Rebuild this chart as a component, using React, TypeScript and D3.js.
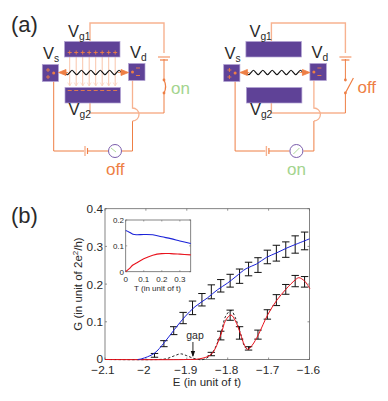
import React from "react";
import * as d3 from "d3";

const blueE = [-2.02,-2.01,-1.98,-1.955,-1.93,-1.905,-1.88,-1.85,-1.825,-1.8,-1.78,-1.755,-1.73,-1.705,-1.68,-1.655,-1.63,-1.6];
const blueG = [0,0.002,0.016,0.045,0.08,0.113,0.14,0.163,0.185,0.203,0.22,0.241,0.253,0.271,0.283,0.296,0.307,0.32];
const redE = [-2.1,-1.9,-1.868,-1.84,-1.817,-1.805,-1.792,-1.781,-1.769,-1.759,-1.751,-1.74,-1.725,-1.702,-1.68,-1.658,-1.635,-1.626,-1.612,-1.599];
const redG = [0,0,0.002,0.014,0.065,0.104,0.118,0.102,0.069,0.038,0.027,0.038,0.066,0.119,0.157,0.186,0.211,0.217,0.208,0.188];
const dashE = [-2.1,-1.97,-1.95,-1.93,-1.915,-1.9,-1.88,-1.86,-1.84,-1.817,-1.805,-1.792,-1.781,-1.769,-1.755,-1.74];
const dashG = [0,0,0.002,0.01,0.015,0.01,0.002,0,0.014,0.068,0.115,0.13,0.11,0.07,0.03,0.036];
const blueBarE = [-1.979,-1.956,-1.932,-1.909,-1.886,-1.863,-1.84,-1.817,-1.794,-1.771,-1.749,-1.726,-1.703,-1.681,-1.658,-1.635,-1.612];
const blueBarLo = [0.006,0.034,0.066,0.095,0.119,0.142,0.161,0.179,0.192,0.202,0.222,0.231,0.254,0.261,0.271,0.282,0.291];
const blueBarHi = [0.016,0.05,0.087,0.125,0.155,0.175,0.198,0.212,0.226,0.24,0.258,0.27,0.29,0.303,0.312,0.328,0.338];
const redBarE = [-1.84,-1.817,-1.794,-1.771,-1.749,-1.726,-1.703,-1.681,-1.658,-1.635,-1.612];
const redBarLo = [0.01,0.052,0.104,0.054,0.025,0.054,0.107,0.143,0.173,0.193,0.192];
const redBarHi = [0.019,0.075,0.131,0.087,0.034,0.078,0.132,0.172,0.199,0.223,0.22];
const insetT = [0,0.02,0.04,0.06,0.1,0.15,0.2,0.25,0.3,0.36];
const insetBlue = [0.159,0.153,0.145,0.143,0.144,0.143,0.135,0.128,0.119,0.109];
const insetRed = [0,0.012,0.026,0.034,0.05,0.064,0.07,0.07,0.068,0.065];
const xTicks = [-2.1,-2,-1.9,-1.8,-1.7,-1.6];
const xTickLabels = ["−2.1","−2","−1.9","−1.8","−1.7","−1.6"];
const yTicks = [0,0.1,0.2,0.3,0.4];
const yTickLabels = ["0","0.1","0.2","0.3","0.4"];
const insetXTicks = [0,0.1,0.2,0.3];
const insetXLabels = ["0","0.1","0.2","0.3"];
const insetYTicks = [0,0.1,0.2];
const insetYLabels = ["0","0.1","0.2"];
const wavePhase = [0,1,0,-1,0,1,0,-1,0,1,0,-1,0,1,0,-1,0,1,0,-1,0,1,0,-1,0];
const fieldLines = [0,1,2,3,4,5,6,7];

const FONT = "'Liberation Sans', Arial, sans-serif";
const PURPLE = "#5f4297";
const EDGE = "#b3a3d3";
const WIRE = "#f7b290";
const OR = "#ee7f45";
const GRN = "#a3d48e";
const TXT = "#2a2a2a";
const AX = "#666";

const x = d3.scaleLinear().domain([-2.1, -1.6]).range([105, 309.5]);
const y = d3.scaleLinear().domain([0, 0.4]).range([359.5, 208.7]);
const ix = d3.scaleLinear().domain([0, 0.36]).range([125.7, 190.7]);
const iy = d3.scaleLinear().domain([0, 0.2]).range([271.7, 220]);

function pathOf(xs: number[], ys: number[], sx: any, sy: any) {
  return d3.line<number>().x((d) => sx(d)).y((_, i) => sy(ys[i])).curve(d3.curveCatmullRom.alpha(0.5))(xs) as string;
}

function V({ x, y, sub, size = 16.5 }: { x: number; y: number; sub: string; size?: number }) {
  return (
    <text x={x} y={y} fontSize={size} fill={TXT} fontFamily={FONT}>
      V<tspan fontSize={size * 0.62} dy={3}>{sub}</tspan>
    </text>
  );
}

function ErrorBar({ e, lo, hi }: { e: number; lo: number; hi: number }) {
  return (
    <path d={`M${x(e) - 3.7},${y(hi)} h7.4 M${x(e)},${y(hi)} V${y(lo)} M${x(e) - 3.7},${y(lo)} h7.4`} fill="none" stroke="#111" strokeWidth={1} />
  );
}

function Circuit({ dx, gateOn }: { dx: number; gateOn: boolean }) {
  const wave = d3.line<number>().x((_, i) => 65 + i * 2.35).y((d) => 72.5 + d * 2.3).curve(d3.curveCatmullRom)(wavePhase) as string;
  return (
    <g transform={`translate(${dx},0)`} fontFamily={FONT}>
      <path d="M90,41 V23 H164 V53" fill="none" stroke={WIRE} strokeWidth={1.4} />
      <path d="M164,113 H90 V103" fill="none" stroke={WIRE} strokeWidth={1.4} />
      <path d="M164,59 V80 M164,93 V113" fill="none" stroke={OR} strokeWidth={1} />
      <path d="M158,57 H170" stroke={WIRE} strokeWidth={1.6} />
      <path d="M160,60 H168" stroke={OR} strokeWidth={1.2} />
      {gateOn
        ? <path d="M164,80 C166,84 166,89 164,93" stroke={OR} strokeWidth={1.2} fill="none" />
        : <path d="M164,93 L172,78" stroke={OR} strokeWidth={1.2} fill="none" />}
      <circle cx={164} cy={80} r={1.4} fill={OR} />
      <circle cx={164} cy={93} r={1.4} fill={OR} />
      <path d="M53.7,73 V151 H84 M87.5,151 H108 M122,151 H132.5 V121" fill="none" stroke={OR} strokeWidth={1} />
      <path d="M132.5,121 A6.5,6.5 0 0 0 132.5,108 V72" fill="none" stroke={WIRE} strokeWidth={1.3} />
      <path d="M85,146 V156" stroke={WIRE} strokeWidth={1.4} />
      <path d="M87.5,148 V154" stroke={OR} strokeWidth={1.2} />
      <circle cx={115} cy={151} r={6.5} fill="#fff" stroke="#7a5cab" strokeWidth={1} />
      <path d={gateOn ? "M111,148 L116,152" : "M112,154 L118,148"} stroke={GRN} strokeWidth={0.9} />
      {gateOn && fieldLines.map((i) => {
        const fx = 69.7 + i * 6.5;
        return (
          <g key={i}>
            <path d={`M${fx},57 V86`} stroke="#f9c6ac" strokeWidth={1} />
            <path d={`M${fx - 2},82.5 L${fx},86 L${fx + 2},82.5`} stroke="#fbd6c2" strokeWidth={0.8} fill="none" />
          </g>
        );
      })}
      <rect x={64.5} y={41.5} width={55.5} height={15.5} fill={PURPLE} stroke={EDGE} strokeWidth={0.7} />
      <rect x={65} y={87.5} width={55.5} height={15.5} fill={PURPLE} stroke={EDGE} strokeWidth={0.7} />
      <rect x={42.3} y={64.5} width={16.2} height={17} fill={PURPLE} stroke={EDGE} strokeWidth={0.7} />
      <rect x={128.5} y={63.5} width={16.5} height={17} fill={PURPLE} stroke={EDGE} strokeWidth={0.7} />
      {gateOn && fieldLines.map((i) => {
        const fx = 69.7 + i * 6.5;
        return (
          <g key={i} stroke={OR} strokeWidth={0.9}>
            <path d={`M${fx - 2},52.5 H${fx + 2} M${fx},50.5 V54.5`} />
            <path d={`M${fx - 2},90.5 H${fx + 2}`} />
          </g>
        );
      })}
      <g stroke={OR} strokeWidth={0.9}>
        <path d="M46,70 H50 M48,68 V72 M46,77 H50 M48,75 V79" />
        <path d="M136,68 H140 M136,75.5 H140" />
      </g>
      <circle cx={53.7} cy={73} r={1.5} fill={OR} />
      <circle cx={132.5} cy={72} r={1.5} fill={OR} />
      <path d={wave} fill="none" stroke="#111" strokeWidth={1.1} />
      <path d="M66,69.5 V75.5 L58.5,72.5 Z M62,72.5 H68" fill={OR} stroke={OR} strokeWidth={0.8} />
      <path d="M121,69.5 V75.5 L128.5,72.5 Z M118,72.5 H122" fill={OR} stroke={OR} strokeWidth={0.8} />
      <V x={68} y={37} sub="g1" />
      <V x={43} y={59} sub="s" />
      <V x={130} y={58} sub="d" />
      <V x={68.5} y={115} sub="g2" />
    </g>
  );
}

export default function App() {
  return (
    <svg width={388} height={401} viewBox="0 0 388 401" style={{ position: "absolute", left: 0, top: 0, background: "#fff" }} fontFamily={FONT}>
      <text x={11} y={32} fontSize={22} fill={TXT}>(a)</text>
      <text x={11} y={223} fontSize={22} fill={TXT}>(b)</text>
      <Circuit dx={0} gateOn={true} />
      <Circuit dx={181.4} gateOn={false} />
      <text x={171} y={94} fontSize={17} fill={GRN}>on</text>
      <text x={106} y={175} fontSize={17} fill={OR}>off</text>
      <text x={357.5} y={93} fontSize={17} fill={OR}>off</text>
      <text x={287} y={175} fontSize={17} fill={GRN}>on</text>

      {/* main axes */}
      <rect x={105} y={208.7} width={204.5} height={150.8} fill="none" stroke={AX} strokeWidth={0.8} />
      {xTicks.map((t, i) => (
        <g key={t}>
          <path d={`M${x(t)},359.5 v-2 M${x(t)},208.7 v2`} stroke={AX} strokeWidth={0.7} />
          <text x={x(t) - (i < 2 ? 2 : 1)} y={373.5} fontSize={11.8} textAnchor="middle" fill={TXT}>{xTickLabels[i]}</text>
        </g>
      ))}
      {yTicks.map((t, i) => (
        <g key={t}>
          <path d={`M105,${y(t)} h2 M309.5,${y(t)} h-2`} stroke={AX} strokeWidth={0.7} />
          <text x={103} y={y(t) + (i === 0 ? 3.5 : 4.5)} fontSize={11.8} textAnchor="end" fill={TXT}>{yTickLabels[i]}</text>
        </g>
      ))}
      <text x={207} y={386} fontSize={11.5} textAnchor="middle" fill={TXT}>E (in unit of t)</text>
      <text transform="translate(81.5,284) rotate(-90)" fontSize={11.5} textAnchor="middle" fill={TXT}>
        G (in unit of 2e<tspan fontSize={8} dy={-4}>2</tspan><tspan dy={4}>/h)</tspan>
      </text>

      {/* error bars */}
      {blueBarE.map((e, i) => <ErrorBar key={e} e={e} lo={blueBarLo[i]} hi={blueBarHi[i]} />)}
      {redBarE.map((e, i) => <ErrorBar key={e} e={e} lo={redBarLo[i]} hi={redBarHi[i]} />)}

      {/* curves */}
      <path d={pathOf(dashE, dashG, x, y)} fill="none" stroke="#111" strokeWidth={0.9} strokeDasharray="2.5 2" />
      <path d={pathOf(redE, redG, x, y)} fill="none" stroke="#e8121c" strokeWidth={1} />
      <path d={pathOf(blueE, blueG, x, y)} fill="none" stroke="#1a22d8" strokeWidth={1} />

      {/* gap annotation */}
      <text x={195} y={339} fontSize={10.5} textAnchor="middle" fill={TXT}>gap</text>
      <path d={`M${x(-1.885)},342 V356`} stroke="#111" strokeWidth={0.9} />
      <path d={`M${x(-1.885) - 2.2},351 L${x(-1.885)},357 L${x(-1.885) + 2.2},351 Z`} fill="#111" />

      {/* inset */}
      <rect x={125.7} y={220} width={65} height={51.7} fill="#fff" stroke={AX} strokeWidth={0.8} />
      {insetXTicks.map((t, i) => (
        <g key={t}>
          <path d={`M${ix(t)},271.7 v-1.5 M${ix(t)},220 v1.5`} stroke={AX} strokeWidth={0.6} />
          <text x={ix(t)} y={281.5} fontSize={8} textAnchor="middle" fill={TXT}>{insetXLabels[i]}</text>
        </g>
      ))}
      {insetYTicks.map((t, i) => (
        <g key={t}>
          <path d={`M125.7,${iy(t)} h1.5 M190.7,${iy(t)} h-1.5`} stroke={AX} strokeWidth={0.6} />
          <text x={124} y={iy(t) + 3} fontSize={8} textAnchor="end" fill={TXT}>{insetYLabels[i]}</text>
        </g>
      ))}
      <text x={157.5} y={290.5} fontSize={8} textAnchor="middle" fill={TXT}>T (in unit of t)</text>
      <path d={pathOf(insetT, insetBlue, ix, iy)} fill="none" stroke="#1a22d8" strokeWidth={1.1} />
      <path d={pathOf(insetT, insetRed, ix, iy)} fill="none" stroke="#e8121c" strokeWidth={1.1} />
    </svg>
  );
}
